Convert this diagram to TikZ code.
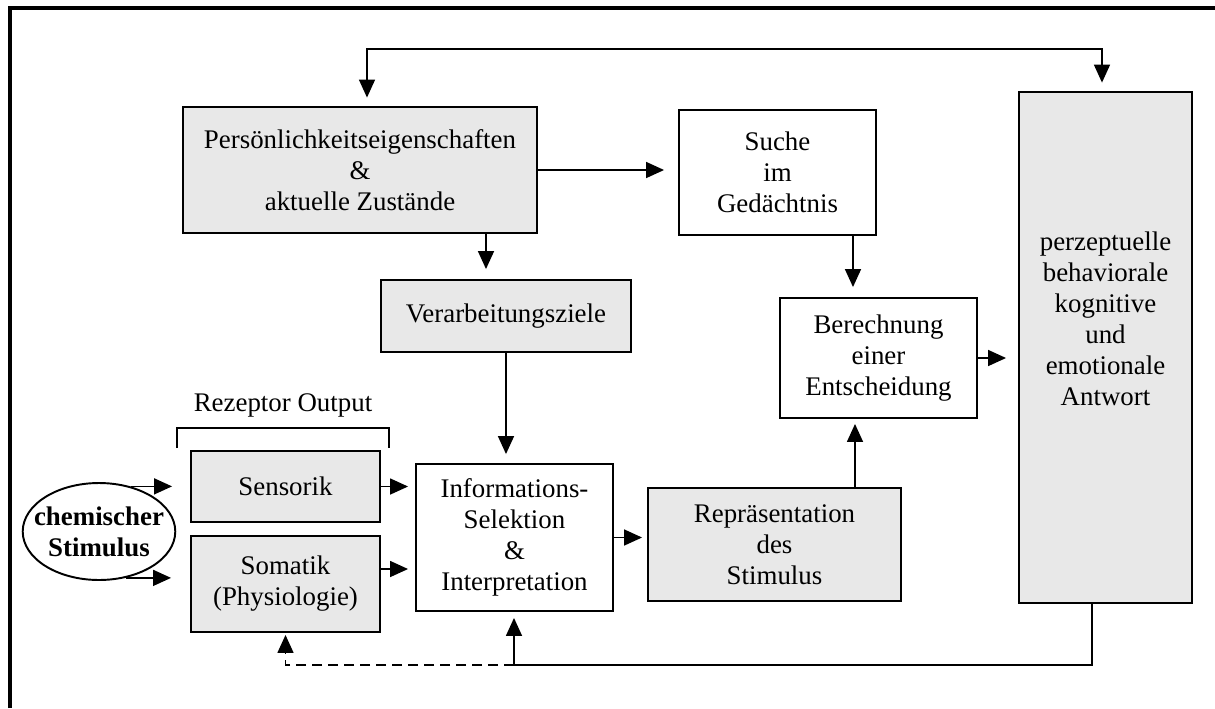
\documentclass[tikz,border=0pt]{standalone}
\usepackage{fontspec}
\setmainfont{Liberation Serif}
\usetikzlibrary{shapes.geometric,arrows.meta,calc}
\definecolor{boxgray}{RGB}{232,232,232}

\def\boxfont{\fontsize{15.3pt}{17.6pt}\selectfont}
\def\tip{Triangle[length=0.36cm,width=0.32cm]}

\begin{document}
\begin{tikzpicture}[x=0.02cm,y=-0.02cm,
    box/.style={draw,line width=1.1pt,align=center,inner sep=0pt,font=\boxfont},
    graybox/.style={box,fill=boxgray},
    arr/.style={-{\tip},line width=0.9pt,shorten >=0.18cm}]

    \useasboundingbox (0,0) rectangle (1215,708);
    \draw[line width=2pt] (10,708) -- (10,8) -- (1215,8);

    \node[graybox,minimum width=7.08cm,minimum height=2.52cm] (pers) at (360,170)
      {Persönlichkeitseigenschaften\\\&\\aktuelle Zustände};
    \node[box,minimum width=3.94cm,minimum height=2.5cm] (suche) at (777.5,172.5)
      {Suche\\im\\Gedächtnis};
    \node[graybox,minimum width=5cm,minimum height=1.44cm] (ziele) at (506,316)
      {Verarbeitungsziele};
    \node[box,minimum width=3.94cm,minimum height=2.4cm] (ber) at (878.5,358)
      {Berechnung\\einer\\Entscheidung};
    \node[graybox,minimum width=3.46cm,minimum height=10.22cm] (antw) at (1105.5,347.5)
      {perzeptuelle\\behaviorale\\kognitive\\und\\emotionale\\Antwort\\[0.53cm]\mbox{}};
    \node[graybox,minimum width=3.78cm,minimum height=1.42cm] (sens) at (285.5,486.5)
      {Sensorik};
    \node[graybox,minimum width=3.78cm,minimum height=1.92cm] (soma) at (285.5,584)
      {Somatik\\(Physiologie)};
    \node[box,minimum width=3.94cm,minimum height=2.94cm] (info) at (514.5,537.5)
      {Informations-\\Selektion\\\&\\Interpretation};
    \node[graybox,minimum width=5.06cm,minimum height=2.26cm] (rep) at (774.5,544.5)
      {Repräsentation\\des\\Stimulus};
    \node[ellipse,draw,line width=1.1pt,minimum width=3cm,minimum height=1.94cm,
      inner xsep=-0.22cm,inner ysep=0pt,align=center,font=\boxfont\bfseries] (stim) at (99,531.5)
      {chemischer\\Stimulus};

    \node[font=\boxfont] (rezlbl) at (283,405) {Rezeptor Output};
    \draw[line width=1.1pt] (177,448) -- (177,428) -- (389,428) -- (389,448);

    \coordinate (loopl) at (367,49);
    \coordinate (loopr) at (1102,49);
    \coordinate (fb) at (514,665);

    \draw[{\tip}-{\tip},line width=0.9pt,shorten <=0.17cm,shorten >=0.17cm]
      (loopl |- pers.north) -- (loopl) -- (loopr) -- (loopr |- antw.north);
    \draw[arr,shorten >=0.28cm] (pers.east) -- (pers.east -| suche.west);
    \draw[arr,shorten >=0.2cm] (pers.south -| 486,0) -- (ziele.north -| 486,0);
    \draw[arr] (ziele.south) -- (ziele.south |- info.north);
    \draw[arr,shorten >=0.2cm] (suche.south -| 853,0) -- (ber.north -| 853,0);
    \draw[arr,shorten >=0.24cm] (ber.east) -- (ber.east -| antw.west);
    \draw[arr,shorten >=0.1cm] (rep.north -| 855,0) -- (ber.south -| 855,0);
    \draw[arr,shorten >=0.14cm] (sens.east) -- (sens.east -| info.west);
    \draw[arr,shorten >=0.14cm] ([yshift=0.3cm]soma.east) -- ([yshift=0.3cm]soma.east -| info.west);
    \draw[arr,shorten >=0.36cm] (stim.55) -- (stim.55 -| sens.west);
    \draw[arr,shorten >=0.38cm] (stim.-60) -- (stim.-60 -| soma.west);
    \draw[arr,shorten >=0.1cm] (info.east) -- (info.east -| rep.west);

    \draw[arr,shorten >=0.12cm] ([xshift=-0.27cm]antw.south) |- (fb) -- (fb |- info.south);
    \draw[arr,dash pattern=on 0.2cm off 0.12cm,shorten >=0.04cm] (fb) -| (soma.south);

  \end{tikzpicture}
\end{document}
